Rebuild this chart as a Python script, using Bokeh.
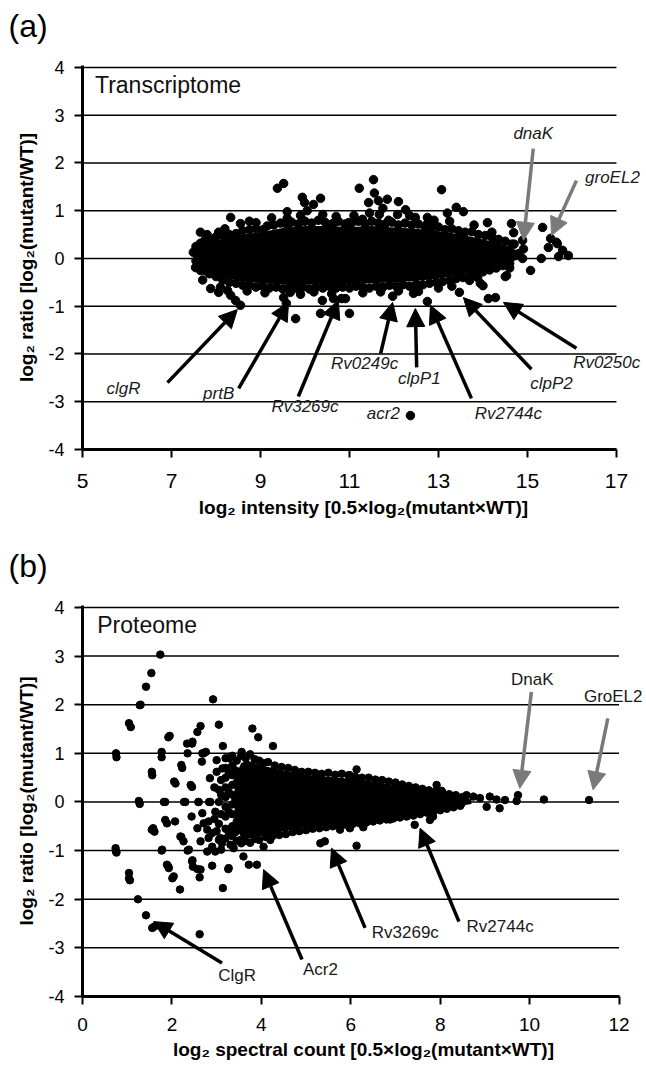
from bokeh.plotting import figure
from bokeh.layouts import column
from bokeh.models import Range1d, FixedTicker, Arrow, NormalHead, Label
from bokeh.core.properties import value
from bokeh.embed import file_html
from bokeh.resources import INLINE

# ---------------- data: panel (a) transcriptome ----------------
# dense core envelope of the cloud (x, upper y, lower y)
trans_core_x = [7.50, 7.60, 7.80, 8.20, 8.60, 9.00, 9.50, 10.00, 10.50, 11.00, 11.50, 12.00, 12.50, 13.00, 13.50, 14.00, 14.50, 14.80]
trans_core_hi = [0.12, 0.22, 0.32, 0.42, 0.50, 0.55, 0.64, 0.68, 0.68, 0.66, 0.68, 0.65, 0.62, 0.57, 0.50, 0.40, 0.28, 0.15]
trans_core_lo = [0.00, -0.10, -0.25, -0.40, -0.48, -0.52, -0.55, -0.55, -0.54, -0.54, -0.52, -0.50, -0.47, -0.42, -0.34, -0.22, -0.10, -0.02]

trans_points = [
    (9.38, 1.47), (9.52, 1.57), (8.33, 0.86), (8.55, 0.73), (8.75, 0.78), (7.65, 0.55), (8.06, 0.55),
    (9.94, 1.28), (9.99, 1.17), (10.19, 1.13), (10.35, 1.26), (9.60, 0.98), (9.60, 0.84),
    (11.54, 1.65), (11.22, 1.47), (11.56, 1.37), (11.43, 1.17), (11.65, 1.21), (11.85, 1.24), (12.10, 1.19),
    (12.26, 1.02), (13.07, 1.44), (13.40, 1.07), (13.56, 0.98), (14.10, 0.75), (14.64, 0.73), (14.89, 0.38),
    (15.34, 0.65), (15.52, 0.42), (15.65, 0.34), (15.67, 0.31), (15.47, 0.23), (15.79, 0.17), (15.70, 0.04),
    (15.92, 0.06), (15.31, 0.00), (15.07, -0.25), (14.69, 0.54), (14.91, 0.20), (14.89, 0.00), (14.50, -0.38),
    (11.67, 0.92), (12.08, 0.92), (11.29, 0.82), (11.88, 0.80), (12.48, 0.86), (12.75, 0.86), (12.75, 0.73),
    (10.98, 0.75), (10.64, 0.73),
    (14.12, -0.84), (14.28, -0.82), (14.53, -0.36), (13.47, -0.71), (12.75, -0.90), (12.44, -0.73),
    (12.55, -0.69), (11.97, -0.79), (12.37, -3.29), (10.82, -0.84), (10.91, -0.84), (11.00, -1.15),
    (8.55, -0.98), (8.44, -0.88), (8.33, -0.77), (8.26, -0.67), (8.06, -0.71), (7.88, -0.63), (7.65, -0.25),
    (7.54, -0.19), (9.58, -0.94), (9.52, -0.82), (9.79, -1.26), (10.39, -0.88), (10.35, -1.15), (9.67, -0.71),
    (7.49, 0.13), (10.64, -0.84), (13.70, -0.46), (13.94, -0.52), (13.88, -0.40), (14.00, -0.57), (12.53, -0.63),
    (14.30, 0.30), (14.50, 0.15), (14.70, 0.30), (14.40, -0.10), (14.60, -0.20), (14.20, 0.55), (14.80, 0.10),
    # scattered just outside the cloud
    (8.90, 0.75), (9.25, 0.85), (9.90, 0.90), (10.40, 0.92), (10.70, 0.88), (11.10, 0.90), (11.45, 0.95),
    (12.35, 0.90), (12.90, 0.80), (13.25, 0.78), (13.80, 0.70), (8.20, 0.62), (7.80, 0.50), (10.05, 1.00),
    (11.75, 1.05), (13.20, 0.95), (8.70, -0.68), (9.10, -0.72), (9.90, -0.75), (10.20, -0.70), (10.60, -0.74),
    (11.30, -0.72), (11.70, -0.70), (12.10, -0.68), (13.00, -0.62), (13.30, -0.58), (7.70, -0.45), (8.10, -0.60),
    # upper edge of the cloud
    (7.55, 0.25), (7.65, 0.32), (7.75, 0.38), (7.90, 0.40), (8.00, 0.45), (8.15, 0.48), (8.30, 0.50),
    (8.45, 0.52), (8.60, 0.58), (8.75, 0.60), (8.90, 0.62), (9.05, 0.60), (9.15, 0.68), (9.30, 0.70),
    (9.45, 0.74), (9.60, 0.70), (9.70, 0.76), (9.85, 0.72), (10.00, 0.78), (10.15, 0.74), (10.30, 0.80),
    (10.45, 0.76), (10.60, 0.72), (10.75, 0.78), (10.90, 0.72), (11.05, 0.74), (11.20, 0.78), (11.35, 0.72),
    (11.50, 0.78), (11.65, 0.74), (11.80, 0.72), (11.95, 0.76), (12.10, 0.70), (12.25, 0.74), (12.40, 0.70),
    (12.55, 0.72), (12.70, 0.66), (12.85, 0.64), (13.00, 0.66), (13.15, 0.60), (13.30, 0.62), (13.45, 0.58),
    (13.60, 0.55), (13.75, 0.56), (13.90, 0.50), (14.05, 0.48), (14.20, 0.44), (14.35, 0.40), (14.50, 0.36),
    (14.65, 0.30),
    # lower edge of the cloud
    (7.55, -0.05), (7.65, -0.15), (7.75, -0.25), (7.85, -0.32), (8.00, -0.38), (8.15, -0.45), (8.30, -0.50),
    (8.45, -0.52), (8.60, -0.56), (8.75, -0.55), (8.90, -0.60), (9.05, -0.58), (9.20, -0.62), (9.35, -0.60),
    (9.50, -0.64), (9.65, -0.60), (9.80, -0.62), (9.95, -0.60), (10.10, -0.64), (10.25, -0.60), (10.40, -0.62),
    (10.55, -0.58), (10.70, -0.62), (10.85, -0.60), (11.00, -0.62), (11.15, -0.58), (11.30, -0.60), (11.45, -0.62),
    (11.60, -0.58), (11.75, -0.60), (11.90, -0.56), (12.05, -0.58), (12.20, -0.55), (12.35, -0.58), (12.50, -0.54),
    (12.65, -0.55), (12.80, -0.52), (12.95, -0.50), (13.10, -0.48), (13.25, -0.46), (13.40, -0.42), (13.55, -0.40),
    (13.70, -0.36), (13.85, -0.32), (14.00, -0.28), (14.15, -0.24), (14.30, -0.20), (14.45, -0.15), (14.60, -0.10),
]

# annotations panel (a): label, label x, label y, tail x, tail y, head x, head y, grey?
trans_notes = [
    ("clgR", 5.92, -2.72, 6.91, -2.60, 8.48, -1.07, False),
    ("prtB", 8.06, -2.83, 8.51, -2.72, 9.63, -0.92, False),
    ("Rv3269c", 10.00, -3.10, 9.85, -2.89, 10.75, -0.88, False),
    ("Rv0249c", 11.34, -2.20, 11.70, -1.99, 11.97, -0.92, False),
    ("clpP1", 12.57, -2.51, 12.51, -2.28, 12.48, -1.05, False),
    ("Rv2744c", 14.57, -3.25, 13.74, -2.93, 12.82, -0.98, False),
    ("clpP2", 15.54, -2.61, 15.09, -2.32, 13.56, -0.82, False),
    ("Rv0250c", 16.78, -2.18, 16.10, -1.88, 14.46, -0.92, False),
    ("dnaK", 15.13, 2.62, 15.13, 2.30, 14.91, 0.38, True),
    ("groEL2", 16.91, 1.70, 16.10, 1.63, 15.54, 0.48, True),
]
trans_plain_labels = [("acr2", 11.76, -3.25)]

# ---------------- data: panel (b) proteome ----------------
prot_core_x = [3.40, 3.55, 3.70, 4.00, 4.50, 5.00, 5.50, 6.00, 6.50, 7.00, 7.50, 8.00, 8.40, 8.70]
prot_core_hi = [0.50, 0.80, 0.85, 0.75, 0.65, 0.56, 0.52, 0.48, 0.42, 0.34, 0.25, 0.16, 0.10, 0.05]
prot_core_lo = [-0.50, -0.72, -0.75, -0.70, -0.60, -0.52, -0.46, -0.41, -0.36, -0.30, -0.22, -0.15, -0.09, -0.04]

prot_points = [
    (1.74, 3.03), (1.54, 2.65), (1.42, 2.37), (1.28, 1.99), (1.30, 2.00), (1.04, 1.62), (1.08, 1.54),
    (1.92, 1.33), (1.95, 1.36), (0.75, 1.00), (0.76, 0.92), (1.77, 1.03), (1.77, 0.92), (1.55, 0.62),
    (1.56, 0.55), (2.05, 0.42), (2.08, 0.38), (2.21, 0.76), (2.23, 0.70), (2.35, 1.00), (2.46, 1.24),
    (2.57, 1.44), (2.64, 1.56), (2.92, 2.11), (3.05, 1.59), (3.14, 1.15), (2.68, 1.00), (2.76, 1.03),
    (2.67, 0.83), (2.42, 0.35), (2.45, 0.31), (2.85, 0.49), (3.00, 0.86), (3.13, 0.69), (3.28, 0.90),
    (3.56, 1.03), (3.80, 1.51), (3.93, 1.33), (4.26, 1.15), (2.34, 1.20), (2.45, 1.20), (2.71, 1.00),
    (1.27, 0.00), (1.26, 0.02), (1.28, -0.04), (1.85, 0.00), (1.82, 0.00), (2.27, 0.00), (2.30, 0.00),
    (2.59, 0.00), (2.60, 0.00), (2.83, 0.00), (2.86, 0.00), (3.05, 0.00),
    (1.55, -0.57), (1.58, -0.54), (1.61, -0.61), (2.07, -0.40), (1.85, -0.37), (1.89, -0.44), (2.21, -0.72),
    (2.19, -0.71), (2.26, -0.81), (2.44, -0.30), (2.57, -0.54), (2.64, -0.81), (0.75, -1.02), (0.74, -0.95),
    (0.76, -1.04), (1.77, -1.00), (1.78, -0.98), (2.35, -1.00), (2.38, -0.98), (1.92, -1.33), (1.89, -1.29),
    (1.93, -1.36), (1.04, -1.46), (1.04, -1.57), (1.06, -1.61), (2.01, -1.57), (2.04, -1.53), (2.46, -1.20),
    (2.45, -1.22), (2.57, -1.38), (2.47, -1.33), (2.62, -1.55), (2.64, -1.39), (2.79, -1.02), (2.90, -1.31),
    (3.26, -1.38), (3.27, -1.36), (2.82, -0.40), (2.90, -0.64), (3.05, -0.78), (3.10, -0.98), (2.68, -0.23),
    (2.97, -0.20), (2.18, -1.80), (3.14, -1.77), (1.24, -2.00), (1.42, -2.33), (1.56, -2.59), (1.61, -2.56),
    (2.62, -2.72), (3.72, -1.29), (3.90, -1.29), (3.60, -1.12), (2.71, -0.44), (2.79, -0.57), (2.82, -0.74),
    (2.90, -0.92), (2.97, -1.02), (3.08, -0.74), (3.12, -0.85), (3.31, -0.88), (3.38, -0.95), (3.53, -0.78),
    (4.05, -0.92), (4.20, -0.78), (5.32, -0.85),
    (6.13, 0.67), (5.98, 0.55), (7.92, 0.35), (8.03, 0.23), (7.43, -0.47), (7.77, -0.37), (7.84, -0.30),
    (6.88, -0.36), (6.28, -0.52), (5.98, -0.54), (5.76, -0.57), (6.13, -0.90), (5.42, -0.81), (9.33, -0.13),
    (9.04, -0.10), (9.45, 0.04), (9.26, 0.05), (9.71, 0.02), (9.74, 0.14), (10.32, 0.05), (11.33, 0.04),
    (8.59, 0.14), (8.74, 0.11), (8.89, 0.08), (9.11, 0.11), (8.36, 0.00), (8.48, -0.03),
    # columns at the left end of the cloud
    (3.20, 0.90), (3.20, 0.70), (3.20, 0.50), (3.20, 0.30), (3.20, 0.10), (3.20, -0.10), (3.20, -0.30),
    (3.20, -0.55), (3.20, -0.75), (3.35, 0.95), (3.35, 0.75), (3.35, 0.55), (3.35, 0.35), (3.35, 0.15),
    (3.35, -0.05), (3.35, -0.25), (3.35, -0.50), (3.35, -0.70), (3.05, 0.25), (3.05, -0.45), (3.10, 0.45),
    (2.95, 0.30), (2.95, -0.35), (3.45, 0.85), (3.45, -0.80), (3.45, 0.40), (3.45, -0.40),
    (3.10, 0.15), (3.10, -0.25), (3.27, 0.60), (3.27, 0.20), (3.27, -0.20), (3.27, -0.62), (3.00, 0.62),
    (3.00, -0.60), (3.42, 0.65), (3.42, -0.62), (3.42, 0.05),
    # upper edge of the cloud
    (3.55, 0.95), (3.65, 0.90), (3.75, 0.98), (3.85, 0.88), (3.95, 0.85), (4.05, 0.80), (4.15, 0.82),
    (4.30, 0.75), (4.45, 0.72), (4.60, 0.70), (4.75, 0.66), (4.90, 0.62), (5.05, 0.62), (5.20, 0.60),
    (5.35, 0.58), (5.50, 0.60), (5.65, 0.56), (5.80, 0.58), (5.95, 0.55), (6.10, 0.52), (6.25, 0.50),
    (6.40, 0.50), (6.55, 0.46), (6.70, 0.45), (6.85, 0.42), (7.00, 0.40), (7.15, 0.36), (7.30, 0.33),
    (7.45, 0.30), (7.60, 0.27), (7.75, 0.24), (7.90, 0.22), (8.05, 0.20), (8.20, 0.16), (8.35, 0.14),
    (8.50, 0.10),
    # lower edge of the cloud
    (3.55, -0.85), (3.65, -0.80), (3.75, -0.84), (3.85, -0.76), (3.95, -0.78), (4.10, -0.72), (4.25, -0.70),
    (4.40, -0.68), (4.55, -0.66), (4.70, -0.62), (4.85, -0.60), (5.00, -0.58), (5.15, -0.55), (5.30, -0.54),
    (5.45, -0.52), (5.60, -0.50), (5.75, -0.48), (5.90, -0.47), (6.05, -0.45), (6.20, -0.44), (6.35, -0.42),
    (6.50, -0.40), (6.65, -0.38), (6.80, -0.36), (6.95, -0.34), (7.10, -0.32), (7.25, -0.30), (7.40, -0.28),
    (7.55, -0.25), (7.70, -0.22), (7.85, -0.20), (8.00, -0.17), (8.15, -0.14), (8.30, -0.11), (8.45, -0.08),
]

prot_notes = [
    ("ClgR", 3.46, -3.57, 3.12, -3.31, 1.59, -2.46, False),
    ("Acr2", 5.32, -3.45, 4.91, -3.24, 4.05, -1.39, False),
    ("Rv3269c", 7.22, -2.69, 6.32, -2.59, 5.57, -0.95, False),
    ("Rv2744c", 9.34, -2.56, 8.42, -2.46, 7.55, -0.54, False),
    ("DnaK", 10.06, 2.52, 10.04, 2.26, 9.78, 0.28, True),
    ("GroEL2", 11.87, 2.17, 11.75, 1.72, 11.42, 0.25, True),
]

trans_xticks = [5, 7, 9, 11, 13, 15, 17]
prot_xticks = [0, 2, 4, 6, 8, 10, 12]
yticks = [-4, -3, -2, -1, 0, 1, 2, 3, 4]
panel_tags = ["(a)", "(b)"]

FONT = "Liberation Sans"
GREY = "#7a7a7a"
TXT = "#1a1a1a"
W = 644


def make_header(tag, h, ty):
    p = figure(width=W, height=h, x_range=Range1d(0, W), y_range=Range1d(0, h),
               x_axis_type=None, y_axis_type=None, output_backend="svg", toolbar_location=None,
               min_border=0)
    if "frame_align" in p.properties():
        p.frame_align = False
    p.outline_line_color = None
    p.grid.visible = False
    p.text(x=[8], y=[ty], text=[tag], text_font=value(FONT), text_font_size="32px",
           text_baseline="middle", text_align="left", text_color="black")
    return p


def make_panel(tag, title, xmax, xticks, xlabel, core, points, notes, plain, fh, borders,
               dot, tick_font, tick_standoff, label_standoff, name_xy):
    p = figure(width=W, height=fh, x_range=Range1d(xticks[0], xmax), y_range=Range1d(-4, 4.04),
               output_backend="svg", toolbar_location=None,
               min_border_left=borders[0], min_border_right=borders[1],
               min_border_top=borders[2], min_border_bottom=borders[3])
    if "frame_align" in p.properties():
        p.frame_align = False
    p.outline_line_color = None
    p.xgrid.grid_line_color = None
    p.ygrid.grid_line_color = None

    p.xaxis.ticker = FixedTicker(ticks=xticks)
    p.yaxis.ticker = FixedTicker(ticks=yticks)
    p.xaxis.bounds = (xticks[0], xticks[-1])
    for ax in (p.xaxis, p.yaxis):
        ax.axis_line_width = 3
        ax.axis_line_color = "black"
        ax.major_tick_line_width = 2
        ax.major_tick_out = 8
        ax.major_tick_in = 0
        ax.minor_tick_line_color = None
        ax.major_label_text_font = FONT
        ax.major_label_text_color = "black"
        ax.axis_label_text_font = FONT
        ax.axis_label_text_font_size = "19px"
        ax.axis_label_text_font_style = "bold"
        ax.axis_label_text_color = "black"
    p.xaxis.major_label_text_font_size = tick_font
    p.yaxis.major_label_text_font_size = "18px"
    p.yaxis.major_label_standoff = 10
    p.xaxis.major_label_standoff = tick_standoff
    p.yaxis.major_label_overrides = {t: str(t) for t in yticks}
    p.xaxis.major_label_overrides = {t: str(t) for t in xticks}
    p.xaxis.axis_label = xlabel
    p.yaxis.axis_label = "log\u2082 ratio [log\u2082(mutant/WT)]"
    p.xaxis.axis_label_standoff = label_standoff
    p.yaxis.axis_label_standoff = 8

    # horizontal grid lines at the y ticks, limited to the x-axis extent
    p.segment(x0=[xticks[0]] * len(yticks), y0=yticks, x1=[xticks[-1]] * len(yticks), y1=yticks,
              line_color="black", line_width=1.5)

    cx, chi, clo = core
    p.varea(x=cx, y1=clo, y2=chi, fill_color="black")
    px = [pt[0] for pt in points]
    py = [pt[1] for pt in points]
    p.scatter(px, py, size=dot, fill_color="black", line_color="black")

    italic = tag == "(a)"
    style = "italic" if italic else "normal"
    for (txt, lx, ly, x0, y0, x1, y1, grey) in notes:
        col = GREY if grey else "black"
        p.add_layout(Arrow(end=NormalHead(size=18, fill_color=col, line_color=col),
                           x_start=x0, y_start=y0, x_end=x1, y_end=y1,
                           line_color=col, line_width=3.5))
        p.add_layout(Label(x=lx, y=ly, text=txt, text_align="center", text_baseline="middle",
                           text_font=FONT, text_font_size="17px",
                           text_font_style=style, text_color=TXT))
    for (txt, lx, ly) in plain:
        p.add_layout(Label(x=lx, y=ly, text=txt, text_align="center", text_baseline="middle",
                           text_font=FONT, text_font_size="17px",
                           text_font_style=style, text_color=TXT))
    p.add_layout(Label(x=name_xy[0], y=name_xy[1], text=title, text_baseline="top",
                       text_font=FONT, text_font_size="23px", text_color="#111111"))
    return p


ha = make_header(panel_tags[0], 48, 23)
pa = make_panel(panel_tags[0], "Transcriptome", 17.63, trans_xticks,
                "log\u2082 intensity [0.5\u00d7log\u2082(mutant\u00d7WT)]",
                (trans_core_x, trans_core_hi, trans_core_lo), trans_points, trans_notes,
                trans_plain_labels, 480, (82, 0, 17, 79), 8.5, "21px", 16, 6, (5.28, 3.90))
hb = make_header(panel_tags[1], 60, 23)
pb = make_panel(panel_tags[1], "Proteome", 12.57, prot_xticks,
                "log\u2082 spectral count [0.5\u00d7log\u2082(mutant\u00d7WT)]",
                (prot_core_x, prot_core_hi, prot_core_lo), prot_points, prot_notes,
                [], 474, (82, 0, 17, 65), 7.5, "19px", 13, 5, (0.33, 3.90))

layout = column(ha, pa, hb, pb, spacing=0)
open("out.html", "w").write(file_html(layout, INLINE))
